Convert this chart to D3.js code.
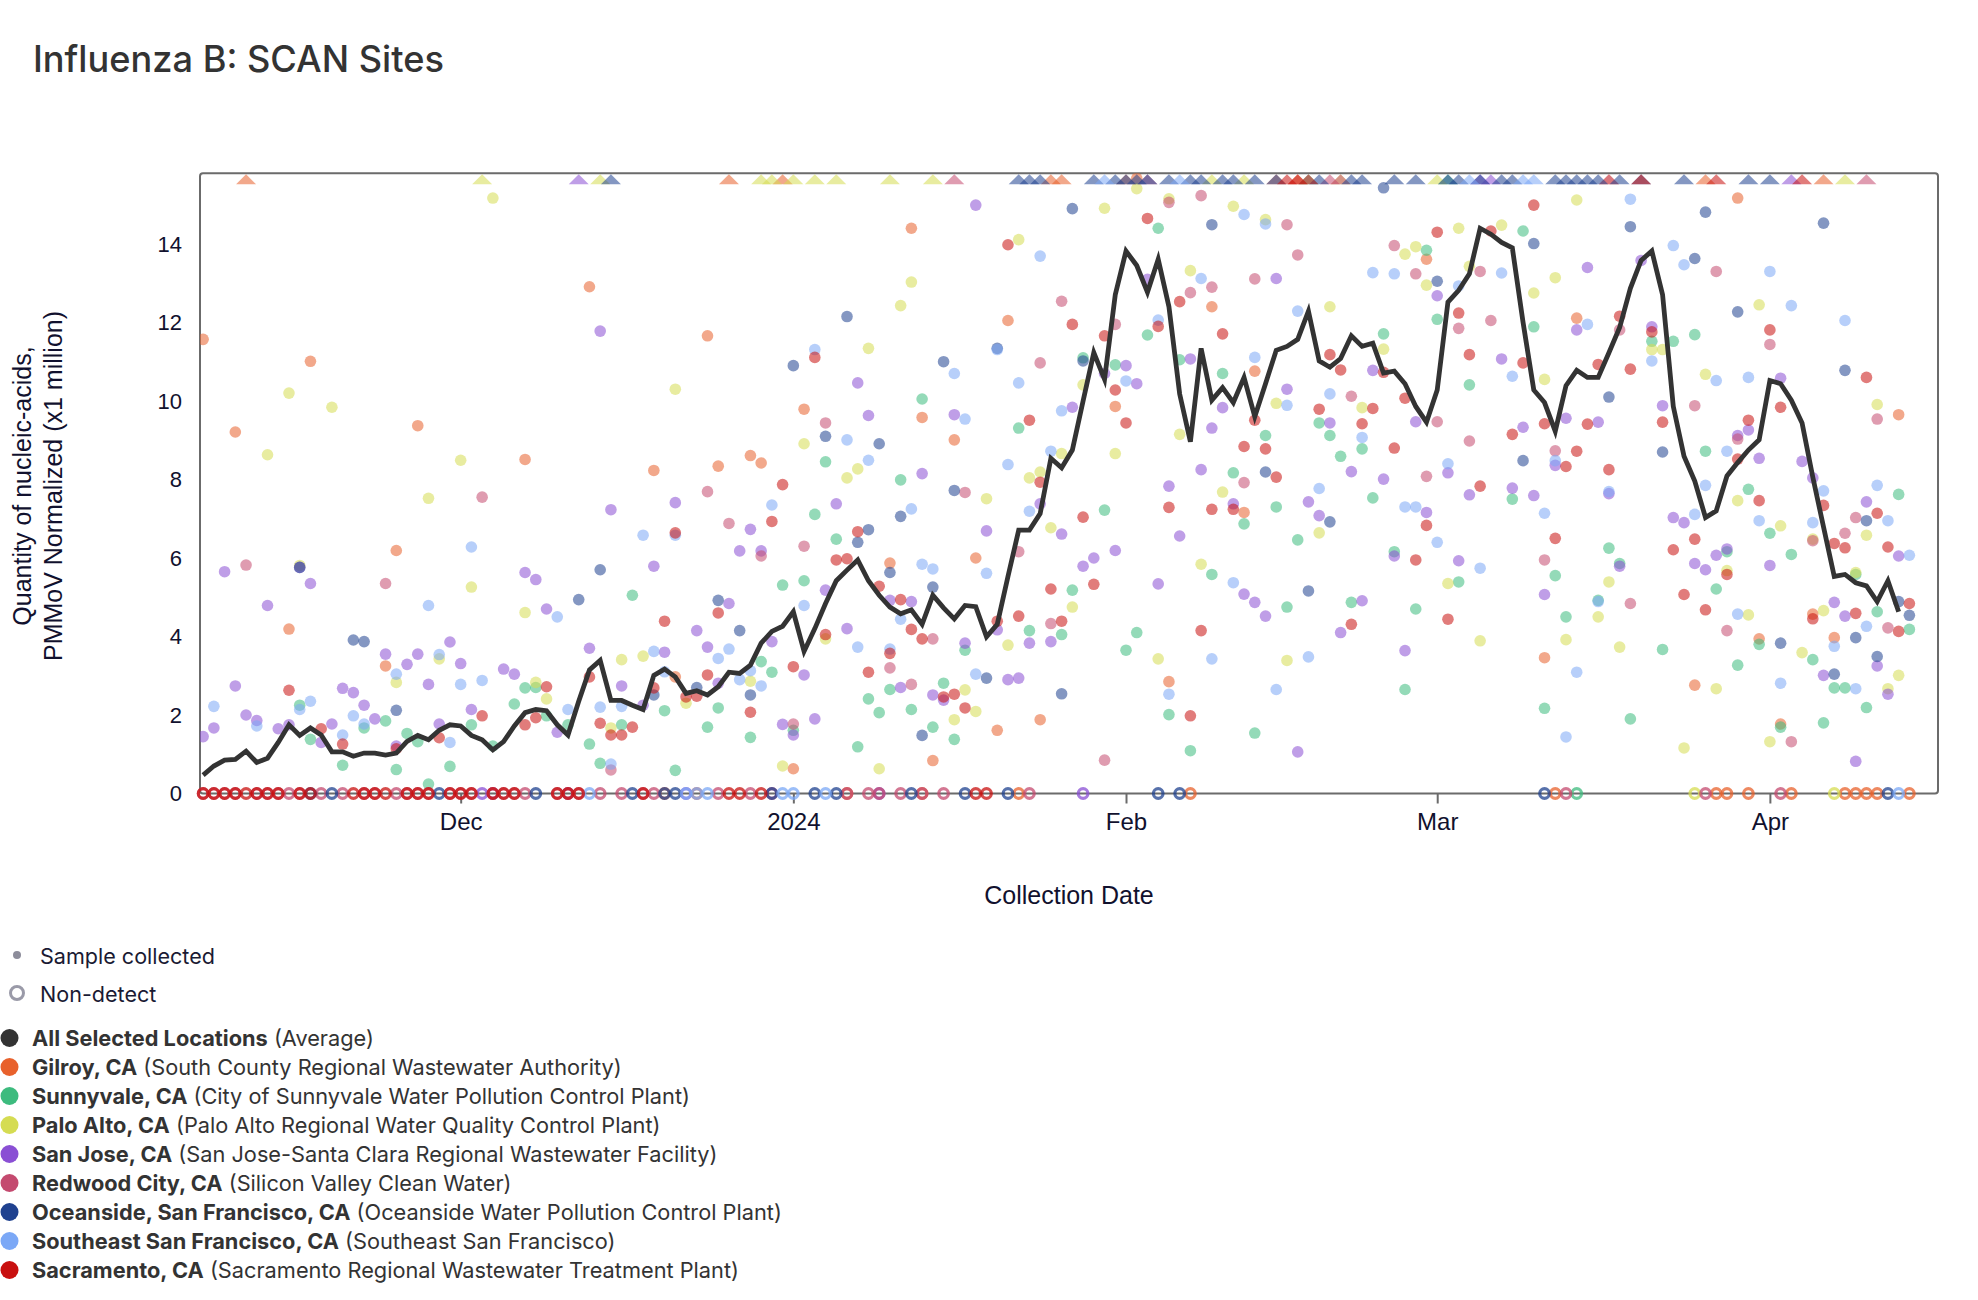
<!DOCTYPE html>
<html>
<head>
<meta charset="utf-8">
<script src="https://cdn.jsdelivr.net/npm/d3@7"></script>
<style>
  body { margin: 0; background: #fff; }
</style>
</head>
<body>
<svg id="chart"></svg>
<script>
// day 0 = 7 Nov 2023, one value per day
var avgValues = [
  0.47, 0.70, 0.85, 0.87, 1.08, 0.79, 0.90, 1.30, 1.75, 1.48,
  1.67, 1.49, 1.06, 1.06, 0.95, 1.03, 1.03, 0.98, 1.03, 1.33,
  1.48, 1.37, 1.61, 1.75, 1.72, 1.48, 1.37, 1.11, 1.32, 1.72,
  2.06, 2.14, 2.11, 1.75, 1.49, 2.35, 3.15, 3.39, 2.37, 2.37,
  2.25, 2.14, 3.01, 3.17, 2.97, 2.55, 2.62, 2.51, 2.72, 3.09,
  3.06, 3.27, 3.83, 4.13, 4.26, 4.63, 3.62, 4.20, 4.84, 5.42,
  5.69, 5.95, 5.42, 5.05, 4.75, 4.58, 4.68, 4.31, 5.05, 4.73,
  4.45, 4.79, 4.76, 3.99, 4.31, 5.53, 6.71, 6.71, 7.13, 8.54,
  8.30, 8.75, 10.0, 11.23, 10.55, 12.71, 13.82, 13.45, 12.77, 13.61,
  12.40, 10.18, 8.96, 11.34, 10.02, 10.34, 9.96, 10.6, 9.6, 10.44,
  11.29, 11.39, 11.57, 12.29, 11.02, 10.86, 11.08, 11.66, 11.39, 11.47,
  10.71, 10.76, 10.44, 9.86, 9.46, 10.28, 12.52, 12.82, 13.24, 14.40,
  14.25, 14.04, 13.90, 12.0, 10.28, 9.96, 9.23, 10.39, 10.78, 10.6,
  10.6, 11.23, 11.87, 12.87, 13.58, 13.82, 12.71, 9.86, 8.59, 7.96,
  7.03, 7.2, 8.09, 8.43, 8.75, 9.01, 10.52, 10.44, 10.02, 9.44,
  8.06, 6.79, 5.53, 5.58, 5.37, 5.29, 4.89, 5.42, 4.63
];

// [day, value]; values above the axis top are drawn as triangles
var gilroy = [[0,11.57],[3,9.21],[4,16.5],[8,4.19],[10,11.01],[17,3.25],[18,6.19],[20,9.37],[30,8.51],[36,12.91],
  [42,8.23],[44,2.97],[47,11.66],[48,8.34],[49,16.5],[51,8.61],[52,8.42],[54,16.5],[55,0.63],[56,9.79],[64,5.87],
  [66,14.4],[67,9.58],[68,0.84],[70,9.01],[72,6.0],[74,1.61],[75,12.05],[78,1.88],[79,16.5],[80,16.5],[85,9.86],
  [86,16.5],[87,15.67],[90,2.85],[94,12.4],[97,7.16],[98,10.76],[100,16.5],[102,16.5],[114,13.61],[125,3.46],
  [128,12.11],[131,16.5],[139,2.76],[140,16.5],[143,15.17],[145,3.94],[147,1.77],[150,4.57],[151,16.5],[152,3.97],[158,9.65]];
var gilroyND = [43,46,60,67,76,92,126,141,142,144,148,153,154,155,156,159];

var sunnyvale = [[9,2.25],[10,1.38],[13,0.72],[15,1.67],[17,1.85],[18,0.61],[19,1.53],[20,1.32],[21,0.24],[23,0.69],
  [25,1.75],[27,1.21],[29,2.28],[30,2.69],[31,2.7],[32,1.98],[34,1.75],[36,1.26],[37,0.77],[39,1.75],[40,5.05],
  [43,2.11],[44,0.59],[47,1.69],[48,2.18],[51,1.43],[52,3.36],[53,3.09],[54,5.31],[55,1.61],[56,5.42],[57,7.11],
  [58,8.45],[59,6.48],[61,1.19],[62,2.41],[63,2.06],[64,2.65],[65,7.99],[66,2.14],[67,10.05],[68,1.69],[69,2.81],
  [70,1.38],[71,3.65],[76,9.31],[77,4.15],[80,4.05],[81,5.18],[82,11.1],[84,7.22],[85,10.92],[86,3.65],[87,4.1],
  [88,11.68],[89,14.4],[90,2.01],[91,11.05],[92,1.09],[94,5.58],[95,10.7],[96,8.17],[97,6.87],[98,1.54],[99,9.12],
  [100,7.3],[101,4.75],[102,6.46],[103,16.5],[104,9.44],[105,9.12],[106,8.59],[107,4.87],[108,8.78],[109,7.53],
  [110,11.71],[111,6.16],[112,2.65],[113,4.7],[114,13.84],[115,12.08],[116,16.5],[117,5.39],[118,10.41],[122,7.5],
  [123,14.33],[124,11.89],[125,2.17],[126,5.55],[127,4.5],[130,4.92],[131,6.25],[132,5.86],[133,1.9],[135,11.52],
  [136,3.67],[137,11.52],[139,11.69],[140,8.72],[141,5.21],[142,6.16],[143,3.27],[144,7.75],[145,3.8],[146,6.63],
  [147,1.69],[148,6.09],[150,3.41],[151,1.8],[152,2.69],[153,2.69],[154,5.58],[155,2.19],[156,4.63],[158,7.62],[159,4.18]];
var sunnyvaleND = [128];

var paloAlto = [[6,8.63],[8,10.2],[9,5.81],[12,9.84],[18,2.83],[21,7.52],[22,3.43],[24,8.49],[25,5.26],[26,16.5],
  [27,15.17],[30,4.61],[31,2.83],[32,2.41],[37,16.5],[38,1.67],[39,3.41],[41,3.5],[44,10.3],[45,2.3],[51,2.86],
  [52,16.5],[53,16.5],[54,0.7],[55,16.5],[56,8.91],[57,16.5],[58,3.94],[59,16.5],[60,8.04],[61,8.27],[62,11.34],
  [63,0.63],[64,16.5],[65,12.43],[66,13.03],[68,16.5],[70,1.88],[71,2.64],[72,2.09],[73,7.51],[75,3.78],[76,14.11],
  [77,8.04],[78,8.19],[79,6.77],[80,8.66],[81,4.75],[82,10.41],[84,14.91],[85,8.66],[87,15.41],[89,3.43],[90,15.15],
  [91,9.15],[92,13.32],[93,5.84],[94,16.5],[95,7.68],[96,14.96],[97,16.5],[99,14.62],[100,9.94],[101,3.39],[104,6.64],
  [105,12.4],[106,16.5],[108,9.83],[110,11.32],[112,13.74],[113,13.93],[114,12.95],[115,16.5],[116,5.35],[117,14.4],
  [118,13.43],[119,3.89],[121,14.48],[124,12.75],[125,10.55],[126,13.14],[127,3.92],[128,15.12],[130,4.5],[131,5.39],
  [132,3.73],[135,11.31],[136,11.31],[138,1.16],[140,10.68],[141,2.67],[142,5.68],[143,7.46],[144,4.55],[145,12.45],
  [146,1.32],[147,6.82],[149,3.59],[150,6.48],[151,4.66],[153,16.5],[154,5.63],[155,6.58],[156,9.91],[157,2.67],[158,3.01]];
var paloAltoND = [139,152];

var sanJose = [[0,1.45],[1,1.67],[2,5.65],[3,2.74],[4,2.0],[5,1.86],[6,4.79],[7,1.65],[8,1.75],[9,5.76],[10,5.35],
  [11,1.3],[12,1.77],[13,2.68],[14,2.57],[15,2.25],[16,1.9],[17,3.55],[18,1.21],[19,3.29],[20,3.55],[21,2.78],
  [22,1.77],[23,3.86],[24,3.31],[25,2.14],[28,3.17],[29,3.04],[30,5.63],[31,5.45],[32,4.7],[33,1.56],[35,16.5],
  [36,3.7],[37,11.78],[38,7.23],[39,2.74],[41,2.25],[42,5.79],[43,3.6],[44,7.41],[46,4.15],[47,3.73],[48,2.81],
  [49,4.84],[50,6.18],[51,6.73],[52,6.18],[53,3.87],[54,1.76],[55,1.49],[56,3.02],[57,1.9],[58,5.18],[59,7.38],
  [60,4.2],[61,10.46],[62,9.63],[64,4.92],[65,2.7],[66,4.89],[67,8.15],[68,2.51],[69,2.38],[70,9.65],[71,3.83],
  [72,14.99],[73,6.69],[74,4.17],[75,2.9],[76,2.94],[77,3.83],[78,7.38],[79,3.87],[80,6.61],[81,9.84],[82,5.79],
  [83,6.0],[84,10.7],[85,6.19],[86,10.9],[87,10.44],[88,13.1],[89,5.34],[90,7.83],[91,6.56],[92,11.07],[93,8.25],
  [94,9.31],[95,9.83],[96,7.38],[97,5.08],[98,4.87],[99,4.52],[100,13.12],[101,10.3],[102,1.06],[103,7.43],[104,7.08],
  [105,9.44],[106,4.1],[107,8.2],[108,4.91],[109,10.78],[110,8.01],[111,6.05],[112,3.64],[113,9.47],[114,7.16],
  [115,12.68],[116,8.17],[117,5.93],[118,7.61],[119,16.5],[120,16.5],[121,11.07],[122,7.78],[123,9.33],[124,7.59],
  [125,5.07],[126,8.36],[127,9.56],[128,11.81],[129,13.4],[130,9.46],[131,7.64],[132,5.79],[134,13.58],[135,11.89],
  [136,9.88],[137,7.03],[138,6.9],[139,5.86],[140,5.7],[141,6.07],[142,6.23],[143,9.12],[144,9.26],[145,8.54],
  [146,5.81],[147,10.58],[148,16.5],[149,8.46],[150,8.04],[151,3.01],[152,4.87],[153,4.52],[154,0.82],[155,7.43],
  [156,3.25],[157,2.53],[158,6.05]];
var sanJoseND = [26,27,34,45,63,82];

var redwood = [[4,5.82],[17,5.35],[26,7.55],[38,0.6],[47,7.69],[49,6.88],[52,6.05],[55,1.77],[56,6.3],[58,9.44],
  [64,3.2],[66,2.78],[68,3.94],[70,16.5],[71,7.67],[76,6.16],[78,10.97],[79,4.33],[80,12.54],[84,0.85],[85,11.95],
  [88,16.5],[90,15.06],[92,12.76],[93,15.23],[94,12.9],[97,7.92],[98,13.11],[101,14.49],[102,13.72],[105,16.5],
  [106,16.5],[107,10.12],[111,13.96],[113,13.24],[114,8.08],[115,9.47],[117,11.85],[118,8.98],[119,13.3],[120,12.05],
  [125,5.95],[126,8.73],[131,16.5],[132,11.81],[133,4.84],[139,9.88],[141,13.3],[142,4.15],[143,9.03],[146,11.44],
  [148,1.32],[150,6.44],[153,6.63],[154,7.03],[155,16.5],[156,9.54],[157,4.22]];
var redwoodND = [0,1,2,3,5,6,7,8,9,11,13,15,16,18,19,20,21,23,24,25,27,28,29,30,33,34,35,37,39,41,42,48,51,53,
  60,62,63,65,67,69,77,127,140,147];

var oceanside = [[9,5.76],[14,3.91],[15,3.87],[18,2.12],[35,4.94],[37,5.7],[38,16.5],[42,2.51],[46,2.7],[48,4.92],
  [50,4.15],[51,2.51],[55,10.9],[58,9.1],[60,12.15],[61,6.4],[62,6.72],[63,8.91],[64,5.63],[65,7.06],[67,1.48],
  [68,5.26],[69,11.0],[70,7.72],[73,2.94],[74,11.34],[76,16.5],[77,16.5],[78,16.5],[80,2.54],[81,14.9],[82,11.02],
  [83,16.5],[85,16.5],[86,16.5],[87,16.5],[88,16.5],[90,16.5],[92,16.5],[93,16.5],[94,14.49],[95,16.5],[96,16.5],
  [98,16.5],[99,8.19],[100,16.5],[103,5.16],[104,16.5],[105,6.92],[107,16.5],[108,16.5],[110,15.43],[111,16.5],
  [113,16.5],[115,13.05],[116,16.5],[117,16.5],[119,16.5],[121,16.5],[122,16.5],[123,8.48],[124,14.01],[126,16.5],
  [127,16.5],[128,16.5],[129,16.5],[130,16.5],[131,10.1],[132,16.5],[133,14.44],[134,16.5],[136,8.7],[138,16.5],
  [139,13.63],[140,14.81],[143,12.27],[144,16.5],[146,16.5],[147,3.83],[151,14.53],[152,3.04],[153,10.78],[154,3.97],
  [155,6.95],[156,3.49],[158,4.89],[159,4.54]];
var oceansideND = [10,12,22,31,40,43,44,53,57,59,66,71,75,89,91,125,157];

var southeastSF = [[1,2.22],[5,1.72],[9,2.14],[10,2.35],[13,1.49],[14,1.98],[15,1.77],[18,3.04],[21,4.79],[22,3.54],
  [23,1.3],[24,2.78],[25,6.28],[26,2.88],[33,4.5],[34,2.14],[37,2.2],[38,0.75],[39,2.22],[41,6.58],[42,3.62],
  [43,3.1],[44,6.58],[48,3.44],[49,3.68],[50,2.9],[51,3.13],[52,2.74],[53,7.35],[56,4.79],[57,11.31],[60,9.01],
  [61,3.73],[62,8.49],[64,3.68],[65,4.44],[66,7.25],[67,5.84],[68,5.72],[70,10.7],[71,9.54],[72,3.04],[73,5.61],
  [74,11.31],[75,8.38],[76,10.46],[77,7.19],[78,13.69],[79,8.72],[80,9.75],[84,16.5],[86,10.51],[89,12.06],[90,2.53],
  [91,16.5],[93,13.12],[94,3.43],[96,5.37],[97,14.75],[98,11.11],[99,14.51],[100,2.65],[101,9.89],[102,12.29],
  [103,3.48],[104,7.77],[105,10.18],[108,9.07],[109,13.27],[111,13.24],[112,7.3],[113,7.3],[115,6.4],[116,8.4],
  [117,12.93],[118,16.5],[119,5.74],[121,13.26],[122,10.63],[123,16.5],[124,16.5],[125,7.14],[126,8.48],[127,1.44],
  [128,3.09],[129,11.95],[130,4.89],[131,7.69],[133,15.14],[135,11.02],[137,13.96],[138,13.47],[139,7.11],[140,7.85],
  [141,10.52],[142,8.72],[143,4.57],[144,10.6],[145,6.95],[146,13.3],[147,2.81],[148,12.43],[150,6.9],[151,7.71],
  [152,3.75],[153,12.05],[154,2.67],[155,4.26],[156,7.85],[157,6.95],[159,6.07]];
var southeastSFND = [36,45,46,47,54,55,58,158];

var sacramento = [[8,2.63],[11,1.65],[13,1.26],[18,1.14],[22,1.42],[26,1.98],[30,1.75],[31,1.93],[32,2.72],[36,2.97],
  [37,1.79],[38,1.49],[39,1.49],[40,1.69],[42,2.69],[43,4.39],[44,6.64],[45,2.46],[46,2.48],[47,3.02],[48,4.6],
  [51,2.07],[53,6.93],[54,7.87],[55,3.23],[57,11.11],[58,4.05],[59,5.95],[60,5.98],[61,6.67],[62,3.09],[63,5.28],
  [64,3.57],[65,4.94],[66,4.18],[67,3.94],[69,2.46],[70,2.53],[71,2.18],[74,4.39],[75,13.98],[76,4.52],[77,9.51],
  [78,7.93],[79,5.21],[80,4.39],[81,11.95],[82,7.04],[83,5.33],[84,11.66],[85,10.28],[86,9.44],[88,14.65],[89,11.9],
  [90,7.29],[91,12.53],[92,1.98],[93,4.15],[94,7.24],[95,11.71],[96,7.24],[97,8.84],[98,9.51],[99,8.78],[100,8.06],
  [101,16.5],[102,16.5],[103,16.5],[104,9.79],[105,11.18],[106,10.79],[107,4.31],[108,9.42],[109,9.81],[110,10.73],
  [111,8.8],[112,10.07],[113,5.95],[114,6.83],[115,14.3],[116,4.44],[117,12.24],[118,11.18],[119,7.83],[120,14.33],
  [122,9.15],[123,10.97],[124,14.99],[125,9.42],[126,6.5],[127,8.33],[128,8.72],[129,9.41],[130,10.93],[131,8.25],
  [132,12.16],[133,10.81],[134,16.5],[135,11.76],[136,9.46],[137,6.21],[138,5.07],[139,6.48],[140,4.68],[141,16.5],
  [142,5.58],[143,8.52],[144,9.51],[145,7.46],[146,11.81],[147,9.84],[149,16.5],[150,4.45],[151,7.34],[152,6.37],
  [153,6.26],[154,4.59],[155,10.6],[156,7.14],[157,6.28],[158,4.13],[159,4.84]];
var sacramentoND = [0,1,2,3,4,5,6,7,9,10,14,15,16,17,19,20,21,23,24,25,27,28,29,33,34,35,41,49,50,52,72,73];

var siteNames = ["Gilroy, CA", "Sunnyvale, CA", "Palo Alto, CA", "San Jose, CA", "Redwood City, CA",
  "Oceanside, San Francisco, CA", "Southeast San Francisco, CA", "Sacramento, CA"];
var plantNames = ["South County Regional Wastewater Authority", "City of Sunnyvale Water Pollution Control Plant",
  "Palo Alto Regional Water Quality Control Plant", "San Jose-Santa Clara Regional Wastewater Facility",
  "Silicon Valley Clean Water", "Oceanside Water Pollution Control Plant", "Southeast San Francisco",
  "Sacramento Regional Wastewater Treatment Plant"];
var siteColors = ["#e8612c", "#3dbb7e", "#d5dc52", "#8a4fd4", "#c44a6f", "#1f418f", "#7ba8f6", "#c8100f"];
var detections = [gilroy, sunnyvale, paloAlto, sanJose, redwood, oceanside, southeastSF, sacramento];
var nonDetects = [gilroyND, sunnyvaleND, paloAltoND, sanJoseND, redwoodND, oceansideND, southeastSFND, sacramentoND];

var xTickDates = [Date.UTC(2023,11,1), Date.UTC(2024,0,1), Date.UTC(2024,1,1), Date.UTC(2024,2,1), Date.UTC(2024,3,1)];
var xTickLabels = ["Dec", "2024", "Feb", "Mar", "Apr"];
var yTickValues = [0, 2, 4, 6, 8, 10, 12, 14];

var sites = siteNames.map(function(n, i) {
  return {name: n, plant: plantNames[i], color: siteColors[i], points: detections[i], nd: nonDetects[i]};
});

var DAY0 = Date.UTC(2023, 10, 7);
function toDate(d) { return new Date(DAY0 + d * 864e5); }

var W = 1978, H = 1300;
var plot = {left: 200, right: 1938, top: 173.3, bottom: 793.5};
var yMax = 15.8;
var axisFont = "'Liberation Sans', Arial, sans-serif";
var textFont = "Inter, 'Noto Sans', sans-serif";
var axisInk = "#11112e";

var svg = d3.select("#chart").attr("width", W).attr("height", H);

var x = d3.scaleUtc()
    .domain([new Date(Date.UTC(2023,10,6,17)), new Date(Date.UTC(2024,3,16,16))])
    .range([plot.left, plot.right]);
var y = d3.scaleLinear().domain([0, yMax]).range([plot.bottom, plot.top]);

// shrink/grow a text element so it spans the measured width
function fitWidth(sel, target) {
  var len = sel.node().getComputedTextLength();
  var fs = parseFloat(sel.attr("font-size"));
  sel.attr("font-size", (fs * target / len).toFixed(2));
  return fs * target / len;
}

// title
var title = svg.append("text")
    .attr("x", 33).attr("y", 72)
    .attr("font-family", textFont).attr("font-size", 36).attr("font-weight", 500)
    .attr("fill", "#333").text("Influenza B: SCAN Sites");
fitWidth(title, 411);

svg.append("defs").append("clipPath").attr("id", "plotclip")
  .append("rect").attr("x", plot.left).attr("y", plot.top)
  .attr("width", plot.right - plot.left).attr("height", plot.bottom - plot.top);

// frame
svg.append("rect")
    .attr("x", plot.left).attr("y", plot.top)
    .attr("width", plot.right - plot.left).attr("height", plot.bottom - plot.top)
    .attr("rx", 3)
    .attr("fill", "none").attr("stroke", "#6b6b6b").attr("stroke-width", 2);

// x axis
var xAxis = svg.append("g")
    .attr("transform", "translate(0," + plot.bottom + ")")
    .call(d3.axisBottom(x).tickValues(xTickDates.map(function(t) { return new Date(t); }))
      .tickFormat(function(d, i) { return xTickLabels[i]; })
      .tickSize(10).tickPadding(9));
xAxis.select(".domain").remove();
xAxis.selectAll("line").attr("stroke", "#6b6b6b").attr("stroke-width", 2);
xAxis.selectAll("text").attr("font-family", axisFont).attr("font-size", 24).attr("fill", axisInk);

// y axis
var yAxis = svg.append("g")
    .attr("transform", "translate(" + plot.left + ",0)")
    .call(d3.axisLeft(y).tickValues(yTickValues).tickSize(0).tickPadding(18));
yAxis.select(".domain").remove();
yAxis.selectAll("text").attr("font-family", axisFont).attr("font-size", 22).attr("fill", axisInk);

// axis titles
svg.append("text")
    .attr("x", 1069).attr("y", 904)
    .attr("text-anchor", "middle")
    .attr("font-family", axisFont).attr("font-size", 25).attr("fill", axisInk)
    .text("Collection Date");
var yTitle = svg.append("text")
    .attr("transform", "translate(31,486) rotate(-90)")
    .attr("text-anchor", "middle")
    .attr("font-family", axisFont).attr("font-size", 25).attr("fill", axisInk);
yTitle.append("tspan").attr("x", 0).attr("dy", 0).text("Quantity of nucleic-acids,");
yTitle.append("tspan").attr("x", 0).attr("dy", 31).text("PMMoV Normalized (x1 million)");

var marks = svg.append("g").attr("clip-path", "url(#plotclip)");

// detected samples
sites.forEach(function(s) {
  marks.append("g").selectAll("circle")
    .data(s.points.filter(function(p) { return p[1] <= yMax; }))
    .join("circle")
      .attr("cx", function(p) { return x(toDate(p[0])); })
      .attr("cy", function(p) { return y(p[1]); })
      .attr("r", 5.8)
      .attr("fill", s.color).attr("fill-opacity", 0.55);
});

// non-detects on the zero line
sites.forEach(function(s) {
  svg.append("g").selectAll("circle")
    .data(s.nd)
    .join("circle")
      .attr("cx", function(d) { return x(toDate(d)); })
      .attr("cy", y(0))
      .attr("r", 4.8)
      .attr("fill", "none")
      .attr("stroke", s.color).attr("stroke-opacity", 0.75).attr("stroke-width", 3.2);
});

// values above the axis range
sites.forEach(function(s) {
  marks.append("g").selectAll("path")
    .data(s.points.filter(function(p) { return p[1] > yMax; }))
    .join("path")
      .attr("d", function(p) {
        var cx = x(toDate(p[0])), t = plot.top + 1;
        return "M" + (cx - 10) + "," + (t + 10) + "L" + cx + "," + t + "L" + (cx + 10) + "," + (t + 10) + "Z";
      })
      .attr("fill", s.color).attr("fill-opacity", 0.55);
});

// average line
var line = d3.line()
    .x(function(v, i) { return x(toDate(i)); })
    .y(function(v) { return y(v); });
svg.append("path")
    .datum(avgValues)
    .attr("d", line)
    .attr("fill", "none").attr("stroke", "#333").attr("stroke-width", 4.8);

// legend: marker types
var legend = svg.append("g");
legend.append("circle").attr("cx", 17).attr("cy", 955).attr("r", 4).attr("fill", "#8d8d9b");
var t1 = legend.append("text").attr("x", 40).attr("y", 956).attr("dy", "0.35em")
    .attr("font-family", textFont).attr("font-size", 20).attr("fill", "#1a1a33").text("Sample collected");
fitWidth(t1, 175);
legend.append("circle").attr("cx", 17).attr("cy", 993).attr("r", 6.5)
    .attr("fill", "none").attr("stroke", "#9a9aa8").attr("stroke-width", 3);
legend.append("text").attr("x", 40).attr("y", 994).attr("dy", "0.35em")
    .attr("font-family", textFont).attr("font-size", t1.attr("font-size")).attr("fill", "#1a1a33").text("Non-detect");

// legend: locations
var rows = [{name: "All Selected Locations", plant: "Average", color: "#333"}].concat(sites);
var items = legend.selectAll("g.item").data(rows).join("g")
    .attr("class", "item")
    .attr("transform", function(d, i) { return "translate(0," + (1038 + i * 29) + ")"; });
items.append("circle").attr("cx", 9.5).attr("cy", 0).attr("r", 9).attr("fill", function(d) { return d.color; });
var labels = items.append("text").attr("x", 32).attr("dy", "0.35em")
    .attr("font-family", textFont).attr("font-size", 20).attr("fill", "#333");
labels.append("tspan").attr("font-weight", 700).text(function(d) { return d.name; });
labels.append("tspan").text(function(d) { return " (" + d.plant + ")"; });
var probe = labels.filter(function(d, i) { return i === 1; });
var fs = fitWidth(probe, 590);
labels.attr("font-size", fs.toFixed(2));
</script>
</body>
</html>
